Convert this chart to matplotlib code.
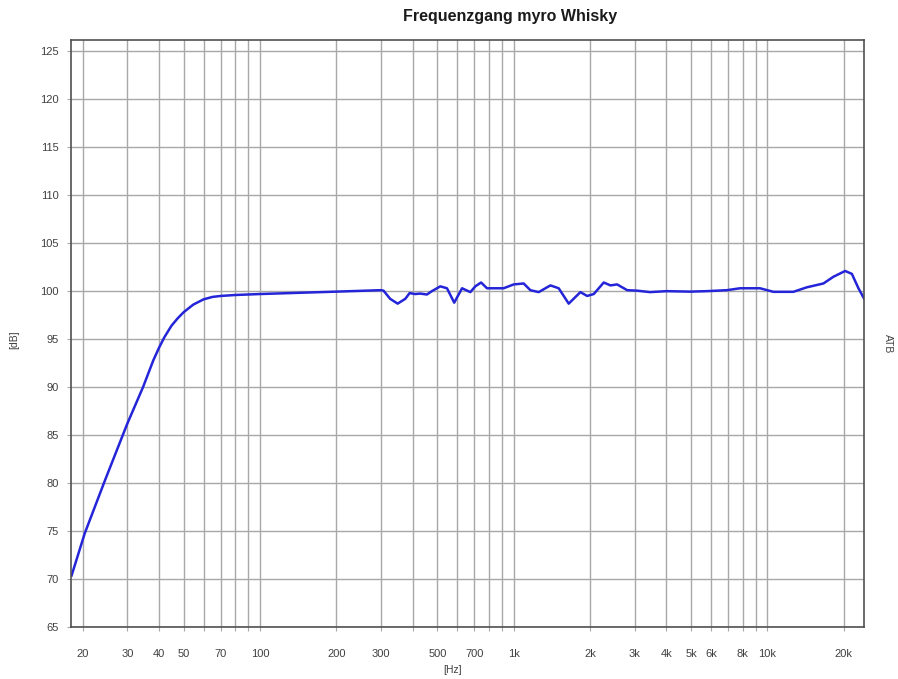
import matplotlib
matplotlib.use("Agg")
import matplotlib.pyplot as plt
from matplotlib.ticker import FixedLocator, NullFormatter

# frequency response (Hz, dB)
freq = [18.1, 20.4, 24.5, 30, 34.6, 38, 40, 42, 44.8, 47.5, 50, 54.6, 60, 65, 70,
        80, 100, 200, 300,
        307, 326, 349, 374, 389, 409, 428, 455, 476, 514, 546, 583, 626, 675,
        706, 744, 785, 913, 1000, 1095, 1164, 1255, 1396, 1505, 1648, 1833,
        1948, 2069, 2265, 2407, 2558, 2802, 3068, 3447, 4009, 4955, 5768,
        6919, 7803, 9358, 10560, 12664, 14303, 16634, 18212, 20253, 21527,
        22855, 24070]
level = [70.4, 74.8, 80.3, 86.2, 90.0, 92.8, 94.1, 95.2, 96.4, 97.2, 97.8, 98.6,
         99.15, 99.4, 99.5, 99.6, 99.7,
         99.95, 100.1, 100.05, 99.2, 98.7, 99.2, 99.8, 99.7, 99.75, 99.65, 100.0,
         100.5, 100.3, 98.8, 100.3, 99.9, 100.5, 100.9, 100.3, 100.3, 100.7,
         100.8, 100.1, 99.9, 100.6, 100.3, 98.7, 99.9, 99.5, 99.7, 100.9, 100.6,
         100.7, 100.1, 100.05, 99.9, 100.0, 99.95, 100.0, 100.1, 100.3, 100.3,
         99.93, 99.93, 100.4, 100.8, 101.5, 102.1, 101.8, 100.3, 99.2]

grid_freqs = [20, 30, 40, 50, 60, 70, 80, 90, 100,
              200, 300, 400, 500, 600, 700, 800, 900, 1000,
              2000, 3000, 4000, 5000, 6000, 7000, 8000, 9000, 10000, 20000]
label_freqs = [20, 30, 40, 50, 70, 100, 200, 300, 500, 700, 1000,
               2000, 3000, 4000, 5000, 6000, 8000, 10000, 20000]
label_texts = ["20", "30", "40", "50", "70", "100", "200", "300", "500", "700",
               "1k", "2k", "3k", "4k", "5k", "6k", "8k", "10k", "20k"]
db_ticks = [65, 70, 75, 80, 85, 90, 95, 100, 105, 110, 115, 120, 125]

plt.rcParams["font.family"] = ["Liberation Sans", "DejaVu Sans"]

fig = plt.figure(figsize=(8.98, 6.79), dpi=100)
ax = fig.add_axes([71 / 898, 1 - 627.3 / 679, (864.3 - 71) / 898, (627.3 - 40) / 679])

ax.set_xscale("log")
ax.set_xlim(18.0, 24100)
ax.set_ylim(65, 126.15)

# grid lines (all frequency lines), labels only at selected ones
ax.xaxis.set_major_locator(FixedLocator(grid_freqs))
ax.xaxis.set_minor_locator(FixedLocator([]))
ax.xaxis.set_major_formatter(NullFormatter())
ax.xaxis.set_minor_formatter(NullFormatter())
ax.set_yticks(db_ticks)
ax.grid(True, which="major", color="#a8a8a8", linewidth=1.0)
ax.set_axisbelow(True)
ax.tick_params(axis="x", length=3, color="#a8a8a8", labelbottom=False)
ax.tick_params(axis="y", length=3, color="#a8a8a8", labelsize=8, labelcolor="#404040", pad=6)

for f, t in zip(label_freqs, label_texts):
    ax.text(f, -0.045, t, transform=ax.get_xaxis_transform(), ha="center", va="center",
            fontsize=8, color="#404040")

ax.plot(freq, level, color="#2424d8", linewidth=1.8, solid_joinstyle="round")

for s in ax.spines.values():
    s.set_color("#505050")
    s.set_linewidth(1.2)

fig.text(510 / 898, 1 - 17 / 679, "Frequenzgang myro Whisky", ha="center", va="center",
         fontsize=11.5, fontweight="bold", color="#1a1a1a")
fig.text(14 / 898, 1 - 340 / 679, "[dB]", rotation=90, ha="center", va="center",
         fontsize=7.5, color="#404040")
fig.text(888 / 898, 1 - 344 / 679, "ATB", rotation=-90, ha="center", va="center",
         fontsize=7.5, color="#404040")
fig.text(453 / 898, 1 - 670 / 679, "[Hz]", ha="center", va="center",
         fontsize=7.5, color="#404040")

fig.savefig("out.png", dpi=100, facecolor="white")
